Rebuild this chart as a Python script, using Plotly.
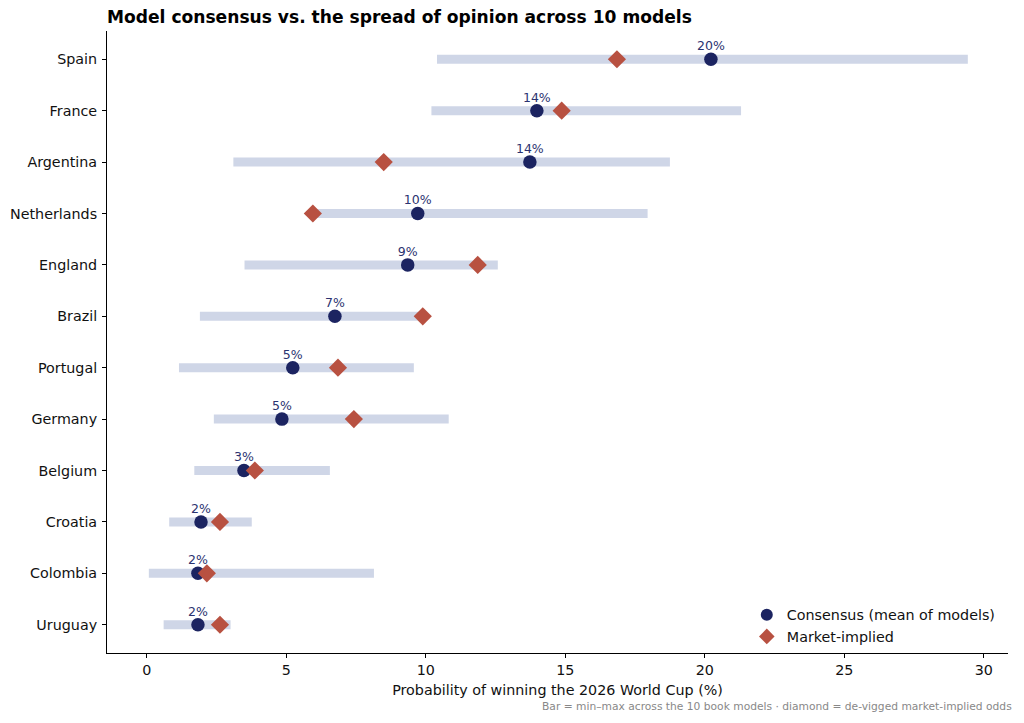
import plotly.graph_objects as go

countries = ["Spain", "France", "Argentina", "Netherlands", "England", "Brazil",
             "Portugal", "Germany", "Belgium", "Croatia", "Colombia", "Uruguay"]
model_min = [10.4, 10.2, 3.1, 5.95, 3.5, 1.9, 1.15, 2.4, 1.7, 0.8, 0.07, 0.6]
model_max = [29.43, 21.3, 18.75, 17.95, 12.58, 9.9, 9.57, 10.82, 6.56, 3.76, 8.14, 3.0]
consensus = [20.22, 13.98, 13.73, 9.71, 9.35, 6.74, 5.23, 4.84, 3.48, 1.94, 1.83, 1.83]
market = [16.85, 14.87, 8.49, 5.95, 11.86, 9.89, 6.85, 7.42, 3.87, 2.62, 2.15, 2.62]
labels = [f"{round(v):d}%" for v in consensus]

NAVY = "#1c2461"
RUST = "#b85141"
BAR = "#cfd6e7"
FONT = "DejaVu Sans"

# page body has an 8px default margin: compensate so the plot lands where the reference has it
OFF = 8
W, H = 1024 - OFF, 723 - OFF
ML, MR, MT, MB = 107 - OFF, 16, 31 - OFF, 70
PW, PH = W - ML - MR, H - MT - MB

fig = go.Figure()
fig.add_trace(go.Bar(
    y=countries, x=[b - a for a, b in zip(model_min, model_max)], base=model_min,
    orientation="h", marker=dict(color=BAR, line=dict(width=0)), width=0.175,
    showlegend=False, hoverinfo="skip"))
fig.add_trace(go.Scatter(
    y=countries, x=consensus, mode="markers", name="Consensus (mean of models)",
    marker=dict(symbol="circle", size=13.5, color=NAVY, line=dict(width=0))))
fig.add_trace(go.Scatter(
    y=countries, x=market, mode="markers", name="Market-implied",
    marker=dict(symbol="diamond", size=14, color=RUST, line=dict(width=0))))
fig.add_trace(go.Scatter(
    y=countries, x=consensus, mode="markers+text", text=labels, textposition="top center",
    marker=dict(size=8, color="rgba(0,0,0,0)"),
    textfont=dict(family=FONT, size=12.5, color="#2b3370"), showlegend=False,
    hoverinfo="skip"))

fig.update_layout(
    width=W, height=H,
    margin=dict(l=ML, r=MR, t=MT, b=MB, autoexpand=False),
    plot_bgcolor="white", paper_bgcolor="white",
    font=dict(family=FONT, size=14.3, color="#111111"),
    title=dict(text="<b>Model consensus vs. the spread of opinion across 10 models</b>",
               x=ML / W, xanchor="left", y=1 - (17 - OFF) / H, yanchor="middle",
               font=dict(family=FONT, size=17.1, color="black")),
    showlegend=True,
    legend=dict(x=0.992, xanchor="right", y=0.0, yanchor="bottom",
                bgcolor="rgba(255,255,255,0)", font=dict(size=14.3),
                itemsizing="constant", tracegroupgap=0),
    xaxis=dict(range=[-1.43, 30.87], tickvals=[0, 5, 10, 15, 20, 25, 30],
               showgrid=False, zeroline=False, showline=True, linecolor="black",
               linewidth=1, ticks="outside", ticklen=4, tickcolor="black",
               title=dict(text="Probability of winning the 2026 World Cup (%)",
                          font=dict(size=14.3), standoff=7)),
    yaxis=dict(categoryorder="array", categoryarray=countries, range=[11.55, -0.55],
               showgrid=False, zeroline=False, showline=True, linecolor="black",
               linewidth=1, ticks="outside", ticklen=4, tickcolor="black",
               ticklabelstandoff=2),
)
fig.add_annotation(
    text="Bar = min\u2013max across the 10 book models \u00b7 diamond = de-vigged market-implied odds",
    xref="paper", yref="paper", x=(1014 - 107) / PW, y=-(706 - 653) / PH,
    xanchor="right", yanchor="middle",
    showarrow=False, font=dict(family=FONT, size=10.7, color="#888888"))
fig.write_html("out.html")
